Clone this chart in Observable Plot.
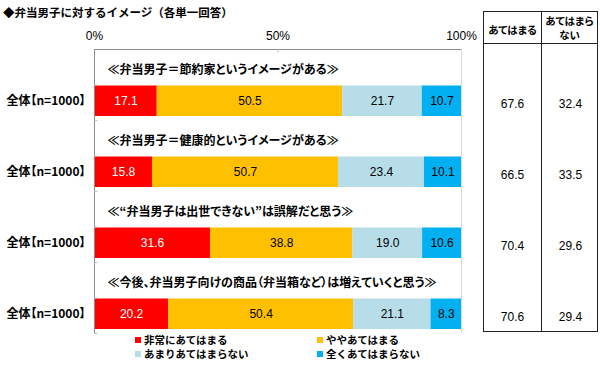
<!DOCTYPE html>
<html><head><meta charset="utf-8">
<script src="https://cdn.jsdelivr.net/npm/d3@7"></script>
<script src="https://cdn.jsdelivr.net/npm/@observablehq/plot@0.6"></script>
<style>
html,body{margin:0;padding:0;background:#fff;}
#wrap{position:relative;width:600px;height:365px;overflow:hidden;font-family:"Noto Sans CJK JP","Noto Sans",sans-serif;}
#wrap svg{position:absolute;left:0;top:0;}
.palt text{font-feature-settings:"palt" 1;}
.title{position:absolute;left:3px;top:3px;font-size:11.5px;font-weight:bold;color:#000;line-height:18px;white-space:nowrap;}
.tbl{position:absolute;left:483px;top:11px;width:115px;height:321px;border:1px solid #222;box-sizing:border-box;}
.tbl .mid{position:absolute;left:57px;top:0;bottom:0;border-left:1px solid #222;}
.tbl .hd{position:absolute;left:0;right:0;top:31px;border-top:1px solid #222;}
.hcell{position:absolute;top:0;height:31px;font-size:10.5px;font-weight:bold;text-align:center;line-height:14px;display:flex;align-items:center;justify-content:center;font-feature-settings:"palt" 1;}
.legend{position:absolute;font-size:10.5px;font-weight:bold;white-space:nowrap;line-height:14px;height:14px;}
.legend span.sw{display:inline-block;width:6px;height:6px;margin-right:3px;vertical-align:1px;}
</style></head>
<body>
<div id="wrap"></div>
<script>
const questions = [
  "≪弁当男子＝節約家というイメージがある≫",
  "≪弁当男子＝健康的というイメージがある≫",
  "≪“弁当男子は出世できない”は誤解だと思う≫",
  "≪今後、弁当男子向けの商品（弁当箱など）は増えていくと思う≫"
];
const groupLabel = "全体【n=1000】";
const levels = ["非常にあてはまる", "ややあてはまる", "あまりあてはまらない", "全くあてはまらない"];
const veryApplies = [17.1, 15.8, 31.6, 20.2];
const somewhatApplies = [50.5, 50.7, 38.8, 50.4];
const notMuchApplies = [21.7, 23.4, 19.0, 21.1];
const notAtAllApplies = [10.7, 10.1, 10.6, 8.3];
const appliesTotal = [67.6, 66.5, 70.4, 70.6];
const notApplyTotal = [32.4, 33.5, 29.6, 29.4];
const tableHeaders = ["あてはまる", "あてはまら<br>ない"];
const colors = ["#FF0000", "#FFC000", "#B7DDE8", "#00B0F0"];
const xTicks = [0, 50, 100];

const series = [veryApplies, somewhatApplies, notMuchApplies, notAtAllApplies];
const rows = [];
questions.forEach((q, i) => {
  let acc = 0;
  series.forEach((s, j) => {
    rows.push({q: i, level: levels[j], j, value: s[i], x1: acc, x2: acc + s[i], y1: 2 * i + 1, y2: 2 * i + 2});
    acc += s[i];
  });
});
const nRows = questions.length * 2;
const qIdx = questions.map((q, i) => i);

const jp = '"Noto Sans CJK JP", sans-serif';
const num = '"Liberation Sans", Arial, sans-serif';

const chart = Plot.plot({
  width: 600, height: 365,
  marginLeft: 94, marginRight: 139, marginTop: 49, marginBottom: 32,
  style: {fontFamily: num, fontSize: "12px", background: "transparent"},
  x: {domain: [0, 100]},
  y: {domain: [0, nRows], reverse: true, axis: null},
  color: {domain: levels, range: colors},
  marks: [
    Plot.rect(rows, {x1: "x1", x2: "x2", y1: "y1", y2: "y2", fill: "level", insetTop: 1, insetBottom: 4}),
    Plot.ruleX([0], {stroke: "#8c8c8c"}),
    Plot.ruleY([0], {stroke: "#8c8c8c"}),
    Plot.ruleX([100], {stroke: "#d9d9d9"}),
    Plot.ruleY(d3.range(1, nRows + 1), {x1: 0, x2: 0.9, stroke: "#bbbbbb"}),
    Plot.ruleX([50], {y1: 0, y2: 0.1, stroke: "#bbbbbb"}),
    Plot.axisX({anchor: "top", ticks: xTicks, tickFormat: d => d + "%", tickSize: 0, tickPadding: 10, fontSize: 12, fontFamily: num}),
    Plot.text(rows, {x: d => (d.x1 + d.x2) / 2, y: d => d.y1 + 0.5, dy: -1.5, text: d => d.value.toFixed(1),
      fill: d => d.j === 0 ? "#fff" : "#000", fontSize: 12, fontFamily: num}),
    Plot.text(qIdx, {x: 0, y: i => 2 * i + 0.5, dy: 3, dx: 13, text: i => questions[i], textAnchor: "start",
      fontSize: 12, fontWeight: "bold", fontFamily: jp, className: "palt"}),
    Plot.text(qIdx, {x: 0, y: i => 2 * i + 1.5, dy: -1.5, dx: -9, text: () => groupLabel, textAnchor: "end",
      fontSize: 12, fontWeight: "bold", fontFamily: jp, className: "palt"}),
    Plot.text(qIdx, {frameAnchor: "right", y: i => 2 * i + 1.5, dy: 1, dx: 51, text: i => appliesTotal[i].toFixed(1),
      textAnchor: "middle", fontSize: 12, fontFamily: num}),
    Plot.text(qIdx, {frameAnchor: "right", y: i => 2 * i + 1.5, dy: 1, dx: 109, text: i => notApplyTotal[i].toFixed(1),
      textAnchor: "middle", fontSize: 12, fontFamily: num})
  ]
});

const wrap = document.getElementById("wrap");
wrap.appendChild(chart);

const title = document.createElement("div");
title.className = "title";
title.textContent = "◆弁当男子に対するイメージ（各単一回答）";
wrap.appendChild(title);

const tbl = document.createElement("div");
tbl.className = "tbl";
tbl.innerHTML = `<div class="mid"></div><div class="hd"></div>
<div class="hcell" style="left:0;width:57px;top:2px">${tableHeaders[0]}</div>
<div class="hcell" style="left:57px;width:57px">${tableHeaders[1]}</div>`;
wrap.appendChild(tbl);

const legendPos = [[135, 333], [317, 333], [135, 347], [317, 347]];
levels.forEach((l, j) => {
  const d = document.createElement("div");
  d.className = "legend";
  d.style.left = legendPos[j][0] + "px";
  d.style.top = legendPos[j][1] + "px";
  d.innerHTML = `<span class="sw" style="background:${colors[j]}"></span>${l}`;
  wrap.appendChild(d);
});
</script>
</body></html>
